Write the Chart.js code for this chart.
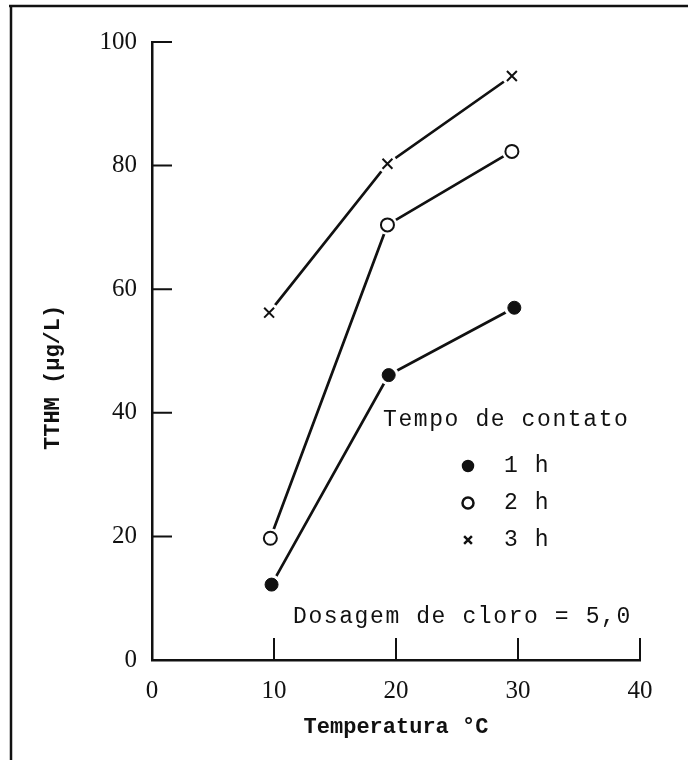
<!DOCTYPE html>
<html>
<head>
<meta charset="utf-8">
<script src="https://cdn.jsdelivr.net/npm/chart.js@4"></script>
<style>
    body { margin: 0; background: #fff; }
    #wrap { width: 688px; height: 760px; }
</style>
</head>
<body>
<div id="wrap"><canvas id="mainChart" width="688" height="760"></canvas></div>
<script>
// TTHM x temperatura, por tempo de contato
const temp1h = [9.8, 19.4, 29.7];
const tthm1h = [12.2, 46.1, 57.0];
const temp2h = [9.7, 19.3, 29.5];
const tthm2h = [19.7, 70.4, 82.3];
const temp3h = [9.6, 19.3, 29.5];
const tthm3h = [56.2, 80.3, 94.5];

const seriesLabels = ['1 h', '2 h', '3 h'];
const xTicks = [0, 10, 20, 30, 40];
const yTicks = [0, 20, 40, 60, 80, 100];

const legendTitle = 'Tempo de contato';
const noteText = 'Dosagem de cloro = 5,0';

const ink = '#111';
const monoFont = '"Liberation Mono", "DejaVu Sans Mono", monospace';
const serifFont = '"Liberation Serif", "DejaVu Serif", serif';

function toPoints(xs, ys) {
    return xs.map((x, i) => ({ x: x, y: ys[i] }));
}

const styles = [
    { pointStyle: 'circle', radius: 6.5, fill: ink, borderWidth: 1 },
    { pointStyle: 'circle', radius: 6.5, fill: '#fff', borderWidth: 2 },
    { pointStyle: 'crossRot', radius: 7, fill: ink, borderWidth: 2 }
];

const datasets = [toPoints(temp1h, tthm1h), toPoints(temp2h, tthm2h), toPoints(temp3h, tthm3h)]
    .map((pts, i) => ({
        label: seriesLabels[i],
        data: pts,
        showLine: true,
        borderColor: ink,
        borderWidth: 2.7,
        pointStyle: styles[i].pointStyle,
        pointRadius: styles[i].radius,
        pointBackgroundColor: styles[i].fill,
        pointBorderColor: ink,
        pointBorderWidth: styles[i].borderWidth
    }));

// page frame (top and left edges only)
const framePlugin = {
    id: 'frame',
    beforeDraw(chart) {
        const ctx = chart.ctx;
        ctx.save();
        ctx.fillStyle = '#fff';
        ctx.fillRect(0, 0, chart.width, chart.height);
        ctx.strokeStyle = ink;
        ctx.lineWidth = 2.5;
        ctx.beginPath();
        ctx.moveTo(9, 6);
        ctx.lineTo(chart.width, 6);
        ctx.moveTo(11, 5);
        ctx.lineTo(11, chart.height);
        ctx.stroke();
        ctx.restore();
    }
};

// tick marks pointing into the plot
const innerTicks = {
    id: 'innerTicks',
    afterDraw(chart) {
        const { ctx, scales: { x, y }, chartArea } = chart;
        ctx.save();
        ctx.strokeStyle = ink;
        ctx.lineWidth = 2;
        ctx.beginPath();
        yTicks.filter(v => v > 0).forEach(v => {
            const py = y.getPixelForValue(v);
            ctx.moveTo(chartArea.left, py);
            ctx.lineTo(chartArea.left + 20, py);
        });
        xTicks.filter(v => v > 0).forEach(v => {
            const px = x.getPixelForValue(v);
            ctx.moveTo(px, chartArea.bottom);
            ctx.lineTo(px, chartArea.bottom - 22);
        });
        ctx.stroke();
        ctx.restore();
    }
};

// white halo round each marker so the lines stop short of it
const markerGap = {
    id: 'markerGap',
    afterDatasetsDraw(chart) {
        const ctx = chart.ctx;
        chart.data.datasets.forEach((ds, i) => {
            chart.getDatasetMeta(i).data.forEach(pt => {
                ctx.save();
                ctx.fillStyle = '#fff';
                ctx.beginPath();
                ctx.arc(pt.x, pt.y, 10, 0, Math.PI * 2);
                ctx.fill();
                ctx.restore();
                pt.draw(ctx);
            });
        });
    }
};

// legend and dosage note inside the plot
const notes = {
    id: 'notes',
    afterDraw(chart) {
        const ctx = chart.ctx;
        ctx.save();
        ctx.fillStyle = ink;
        ctx.font = '23px ' + monoFont;
        ctx.textBaseline = 'middle';
        ctx.letterSpacing = '1.6px';
        ctx.fillText(legendTitle, 383, 420);
        seriesLabels.forEach((lbl, i) => {
            const yy = 466 + i * 37;
            ctx.strokeStyle = ink;
            ctx.fillStyle = styles[i].fill;
            ctx.lineWidth = styles[i].borderWidth + 0.5;
            Chart.helpers.drawPoint(ctx, {
                pointStyle: styles[i].pointStyle,
                radius: 5.5,
                borderWidth: styles[i].borderWidth,
                rotation: 0
            }, 468, yy);
            ctx.fillStyle = ink;
            ctx.fillText(lbl, 504, yy);
        });
        ctx.fillText(noteText, 293, 617);
        ctx.restore();
    }
};

new Chart(document.getElementById('mainChart'), {
    type: 'scatter',
    data: { datasets: datasets },
    options: {
        responsive: false,
        animation: false,
        layout: { padding: { top: 42, right: 48, left: 0, bottom: 0 } },
        plugins: {
            legend: { display: false },
            tooltip: { enabled: false }
        },
        scales: {
            x: {
                min: 0,
                max: 40,
                afterFit: s => { s.height = 100; },
                afterBuildTicks: s => { s.ticks = xTicks.map(v => ({ value: v })); },
                grid: { display: false, drawTicks: false },
                border: { display: true, color: ink, width: 2.5 },
                ticks: { color: ink, padding: 16, font: { family: serifFont, size: 25 } },
                title: {
                    display: true,
                    text: 'Temperatura °C',
                    color: ink,
                    padding: { bottom: 19 },
                    font: { family: monoFont, size: 22, weight: 'bold' }
                }
            },
            y: {
                min: 0,
                max: 100,
                afterFit: s => { s.width = 152; },
                afterBuildTicks: s => { s.ticks = yTicks.map(v => ({ value: v })); },
                grid: { display: false, drawTicks: false },
                border: { display: true, color: ink, width: 2.5 },
                ticks: { color: ink, padding: 15, font: { family: serifFont, size: 25 } },
                title: {
                    display: true,
                    text: 'TTHM (µg/L)    ',
                    color: ink,
                    padding: { top: 40 },
                    font: { family: monoFont, size: 22, weight: 'bold' }
                }
            }
        }
    },
    plugins: [framePlugin, innerTicks, markerGap, notes]
});
</script>
</body>
</html>
